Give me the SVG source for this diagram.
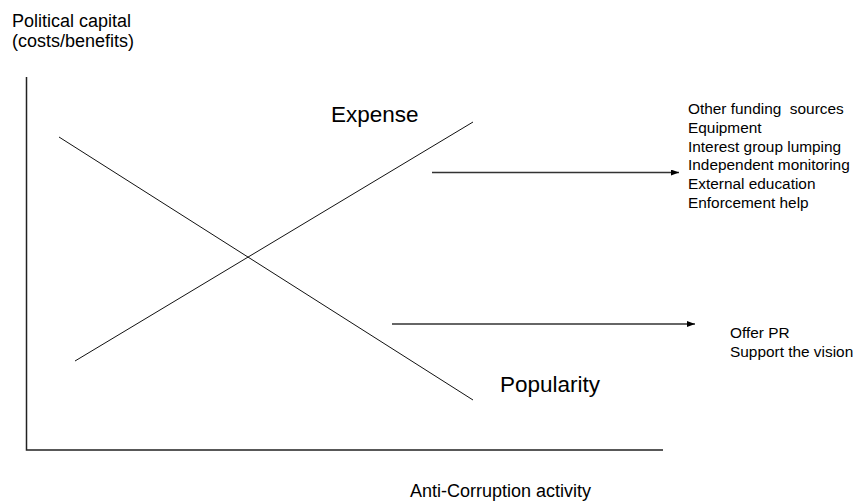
<svg xmlns="http://www.w3.org/2000/svg" width="854" height="501" viewBox="0 0 854 501">
<style>
text{font-family:"Liberation Sans",Arial,sans-serif;fill:#000}
.ax{stroke:#222;stroke-width:1.5;fill:none}
.ln{stroke:#111;stroke-width:1;fill:none}
.ar{stroke:#333;stroke-width:1.3;fill:none;marker-end:url(#ah)}
.lbl{font-size:18px}
.big{font-size:22.5px}
.lst{font-size:15.4px}
</style>
<defs>
<marker id="ah" viewBox="0 0 8 6" refX="8" refY="3" markerWidth="8" markerHeight="6" markerUnits="userSpaceOnUse" orient="auto">
<path d="M0,0 L8,3 L0,6 z" fill="#000"/>
</marker>
</defs>
<g id="axes">
<path class="ax" d="M26.5,77 L26.5,450 L663,450"/>
<text class="lbl" x="12" y="27">Political capital</text>
<text class="lbl" x="12" y="47">(costs/benefits)</text>
<text class="lbl" x="410" y="497">Anti-Corruption activity</text>
</g>
<g id="expense">
<line class="ln" x1="75" y1="361" x2="473" y2="122"/>
<text class="big" x="331" y="122">Expense</text>
</g>
<g id="popularity">
<line class="ln" x1="59" y1="137" x2="473" y2="400"/>
<text class="big" x="500" y="392">Popularity</text>
</g>
<g id="connectors">
<line class="ar" x1="432" y1="172.5" x2="679" y2="172.5"/>
<line class="ar" x1="392" y1="324" x2="695" y2="324"/>
</g>
<g id="expense-list">
<text class="lst" x="688" y="114" xml:space="preserve">Other funding  sources</text>
<text class="lst" x="688" y="132.8">Equipment</text>
<text class="lst" x="688" y="151.6">Interest group lumping</text>
<text class="lst" x="688" y="170.4">Independent monitoring</text>
<text class="lst" x="688" y="189.2">External education</text>
<text class="lst" x="688" y="208">Enforcement help</text>
</g>
<g id="popularity-list">
<text class="lst" x="730" y="337.5">Offer PR</text>
<text class="lst" x="730" y="356.5">Support the vision</text>
</g>
</svg>
